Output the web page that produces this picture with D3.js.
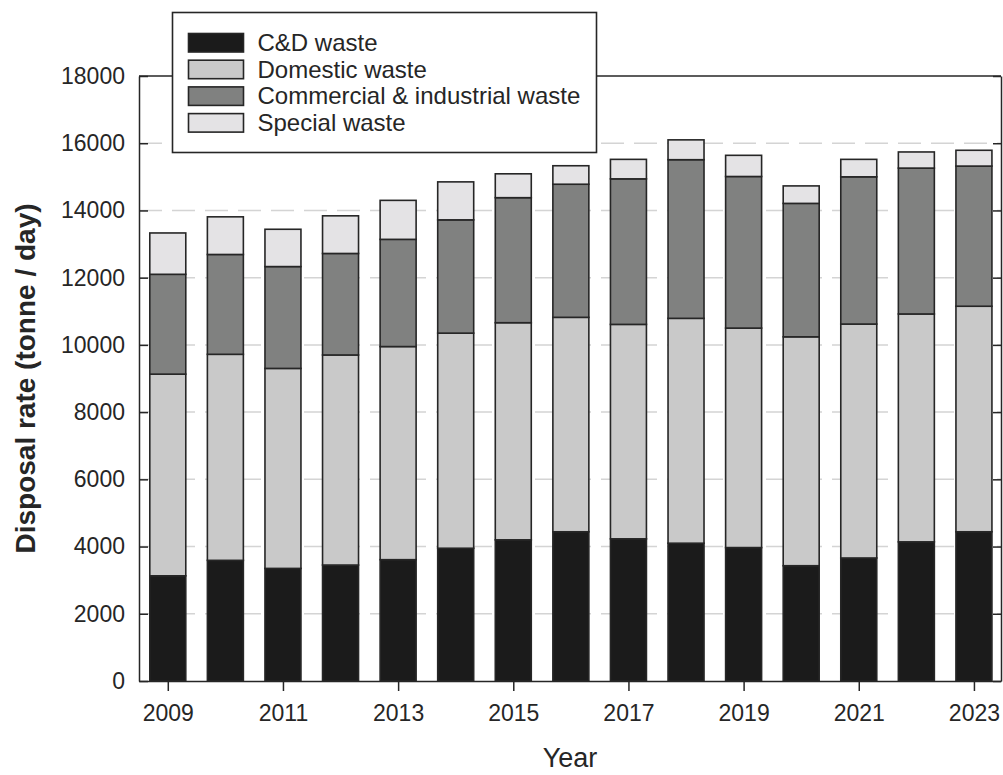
<!DOCTYPE html>
<html>
<head>
<meta charset="utf-8">
<script src="https://cdn.jsdelivr.net/npm/d3@7"></script>
<style>
  body { margin: 0; background: #fff; }
  svg { display: block; font-family: Arial, "Liberation Sans", sans-serif; }
</style>
</head>
<body>
<div id="chart"></div>
<script>
// values (tonne / day)
const years = [2009, 2010, 2011, 2012, 2013, 2014, 2015, 2016, 2017, 2018, 2019, 2020, 2021, 2022, 2023];
const cdWaste = [3130, 3590, 3350, 3450, 3610, 3950, 4200, 4440, 4230, 4100, 3970, 3430, 3660, 4140, 4440];
const domesticWaste = [6000, 6130, 5950, 6250, 6340, 6400, 6460, 6380, 6380, 6690, 6530, 6810, 6960, 6780, 6710];
const commercialWaste = [2970, 2970, 3030, 3020, 3190, 3370, 3720, 3960, 4330, 4720, 4510, 3970, 4380, 4340, 4170];
const specialWaste = [1230, 1120, 1110, 1120, 1160, 1130, 710, 550, 580, 590, 630, 520, 520, 480, 470];
const seriesNames = ['C&D waste', 'Domestic waste', 'Commercial & industrial waste', 'Special waste'];
const yTicks = [0, 2000, 4000, 6000, 8000, 10000, 12000, 14000, 16000, 18000];
const xTicks = [2009, 2011, 2013, 2015, 2017, 2019, 2021, 2023];

const width = 1003, height = 775;
const margin = {top: 76, right: 2, bottom: 94, left: 139};
const fills = ['#1b1b1b', '#c9c9c9', '#808180', '#e4e3e5'];
const ink = '#262626';

const table = years.map((yr, i) => ({
  year: yr,
  'C&D waste': cdWaste[i],
  'Domestic waste': domesticWaste[i],
  'Commercial & industrial waste': commercialWaste[i],
  'Special waste': specialWaste[i]
}));
const stacked = d3.stack().keys(seriesNames)(table);

const x = d3.scaleLinear()
  .domain([2008.5, 2023.47])
  .range([margin.left, width - margin.right]);
const y = d3.scaleLinear()
  .domain([0, 18000])
  .range([height - margin.bottom, margin.top]);
const barW = x(2009.625) - x(2009);

const svg = d3.select('#chart').append('svg')
  .attr('width', width)
  .attr('height', height)
  .attr('viewBox', `0,0,${width},${height}`);

// dashed grid behind bars
svg.append('g')
  .selectAll('line')
  .data(yTicks.filter(d => d > 0 && d < 18000))
  .join('line')
  .attr('x1', margin.left)
  .attr('x2', width - margin.right)
  .attr('y1', d => y(d))
  .attr('y2', d => y(d))
  .attr('stroke', '#d4d4d4')
  .attr('stroke-width', 1.5)
  .attr('stroke-dasharray', '23,10');

// stacked bars
svg.append('g')
  .selectAll('g')
  .data(stacked)
  .join('g')
  .attr('fill', (d, i) => fills[i])
  .selectAll('rect')
  .data(d => d)
  .join('rect')
  .attr('x', d => x(d.data.year) - barW / 2)
  .attr('width', barW)
  .attr('y', d => y(d[1]))
  .attr('height', d => y(d[0]) - y(d[1]))
  .attr('stroke', ink)
  .attr('stroke-width', 1.6);

// axes
const yAxis = svg.append('g')
  .attr('transform', `translate(${margin.left},0)`)
  .call(d3.axisLeft(y).tickValues(yTicks).tickFormat(d3.format('d')).tickSize(-9).tickSizeOuter(0).tickPadding(14));
const yAxisR = svg.append('g')
  .attr('transform', `translate(${width - margin.right},0)`)
  .call(d3.axisRight(y).tickValues(yTicks).tickFormat('').tickSize(-8).tickSizeOuter(0));
const xAxis = svg.append('g')
  .attr('transform', `translate(0,${height - margin.bottom})`)
  .call(d3.axisBottom(x).tickValues(xTicks).tickFormat(d3.format('d')).tickSize(10).tickSizeOuter(0).tickPadding(14));

[yAxis, yAxisR, xAxis].forEach(g => {
  g.selectAll('path, line').attr('stroke', ink).attr('stroke-width', 1.5);
  g.selectAll('text').attr('fill', ink).attr('font-size', 23).attr('font-family', 'Arial, "Liberation Sans", sans-serif');
});

// top spine
svg.append('line')
  .attr('x1', margin.left).attr('x2', width - margin.right)
  .attr('y1', margin.top).attr('y2', margin.top)
  .attr('stroke', ink).attr('stroke-width', 1.5);

// axis titles
svg.append('text')
  .attr('transform', `translate(35,${(margin.top + height - margin.bottom) / 2}) rotate(-90)`)
  .attr('text-anchor', 'middle')
  .attr('font-size', 28)
  .attr('font-weight', 'bold')
  .attr('fill', ink)
  .text('Disposal rate (tonne / day)');

svg.append('text')
  .attr('x', (margin.left + width - margin.right) / 2)
  .attr('y', 767)
  .attr('text-anchor', 'middle')
  .attr('font-size', 27)
  .attr('fill', ink)
  .text('Year');

// legend
const legend = svg.append('g').attr('transform', 'translate(172.5,12.5)');
legend.append('rect')
  .attr('width', 424).attr('height', 140)
  .attr('fill', '#fff').attr('stroke', ink).attr('stroke-width', 1.6);
const item = legend.selectAll('g.item')
  .data(seriesNames)
  .join('g')
  .attr('class', 'item')
  .attr('transform', (d, i) => `translate(16,${21 + i * 26.7})`);
item.append('rect')
  .attr('width', 55).attr('height', 18.5)
  .attr('fill', (d, i) => fills[i])
  .attr('stroke', ink).attr('stroke-width', 1.6);
item.append('text')
  .attr('x', 69).attr('y', 17.5)
  .attr('font-size', 24)
  .attr('fill', ink)
  .text(d => d);
</script>
</body>
</html>
